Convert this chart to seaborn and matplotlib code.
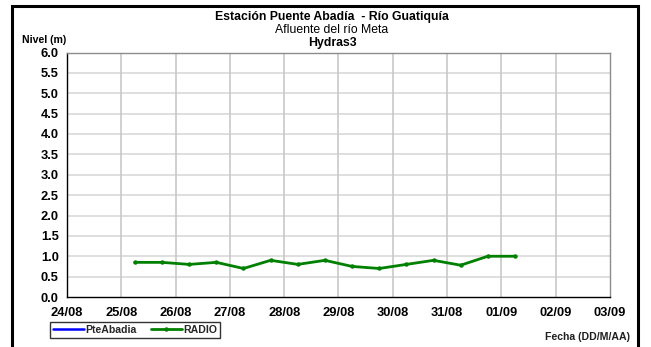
import matplotlib
matplotlib.use("Agg")
import matplotlib.pyplot as plt
import matplotlib.dates as mdates
from matplotlib.patches import Rectangle
import seaborn as sns
import pandas as pd
import numpy as np

sns.set_theme(style="white")
plt.rcParams['font.family'] = ['Liberation Sans', 'DejaVu Sans']

# ---- data ----
fecha_radio = ["2023-08-25 06:00", "2023-08-25 18:00", "2023-08-26 06:00", "2023-08-26 18:00",
               "2023-08-27 06:00", "2023-08-27 18:00", "2023-08-28 06:00", "2023-08-28 18:00",
               "2023-08-29 06:00", "2023-08-29 18:00", "2023-08-30 06:00", "2023-08-30 18:00",
               "2023-08-31 06:00", "2023-08-31 18:00", "2023-09-01 06:00"]
nivel_radio = [0.85, 0.85, 0.80, 0.85, 0.70, 0.90, 0.80, 0.90,
               0.75, 0.70, 0.80, 0.90, 0.78, 1.00, 1.00]
fecha_pte = []
nivel_pte = []
x_ticks = ["2023-08-24", "2023-08-25", "2023-08-26", "2023-08-27", "2023-08-28", "2023-08-29",
           "2023-08-30", "2023-08-31", "2023-09-01", "2023-09-02", "2023-09-03"]
y_ticks = [0.0, 0.5, 1.0, 1.5, 2.0, 2.5, 3.0, 3.5, 4.0, 4.5, 5.0, 5.5, 6.0]

df_radio = pd.DataFrame({"Fecha": pd.to_datetime(fecha_radio), "Nivel": nivel_radio})
df_pte = pd.DataFrame({"Fecha": pd.to_datetime(fecha_pte), "Nivel": pd.Series(nivel_pte, dtype=float)})

fig = plt.figure(figsize=(6.51, 3.47), dpi=100)
fig.patch.set_facecolor("white")
ax = fig.add_axes([67/651, 1-297/347, (610-67)/651, (297-52.5)/347])

# outer frame
fig.patches.append(Rectangle((11.5/651, -0.05), (638-11.5)/651, 1.05 - 5.5/347,
                             transform=fig.transFigure, fill=False, edgecolor="black",
                             linewidth=2.2, zorder=0))

# grid
xt = pd.to_datetime(x_ticks)
for v in y_ticks[1:-1]:
    ax.axhline(v, color="#dcdcdc", linewidth=1.3, zorder=0)
for t in xt[1:-1]:
    ax.axvline(t, color="#c8c8c8", linewidth=1.2, zorder=0)

sns.lineplot(data=df_pte, x="Fecha", y="Nivel", ax=ax, color="#0000ff", linewidth=1.8,
             label="PteAbadia")
sns.lineplot(data=df_radio, x="Fecha", y="Nivel", ax=ax, color="#008000", linewidth=2.0,
             marker="o", markersize=3.2, markeredgewidth=0, label="RADIO")

ax.set_xlim(xt[0], xt[-1])
ax.set_ylim(0, 6)
ax.set_xticks(xt)
ax.xaxis.set_major_formatter(mdates.DateFormatter("%d/%m"))
ax.set_yticks(y_ticks)
ax.set_yticklabels([f"{v:.1f}" for v in y_ticks])
ax.set_xlabel("")
ax.set_ylabel("")
ax.tick_params(axis="both", which="major", length=4, width=0.8, color="black",
               labelsize=9.3, direction="out", pad=2)
ax.tick_params(axis="x", pad=3)
for lab in ax.get_xticklabels() + ax.get_yticklabels():
    lab.set_fontweight("bold")
    lab.set_color("black")

for side in ["left", "bottom"]:
    ax.spines[side].set_color("black")
    ax.spines[side].set_linewidth(1.0)
for side in ["top", "right"]:
    ax.spines[side].set_color("#8c8c8c")
    ax.spines[side].set_linewidth(1.0)
    ax.spines[side].set_visible(True)

# titles
fig.text(0.510, 1-17/347, "Estación Puente Abadía  - Río Guatiquía", ha="center", va="center",
         fontsize=8.8, fontweight="bold", color="black")
fig.text(0.510, 1-30/347, "Afluente del río Meta", ha="center", va="center",
         fontsize=8.8, color="black")
fig.text(0.510, 1-43/347, "Hydras3", ha="center", va="center",
         fontsize=8.8, fontweight="bold", color="black")
fig.text(22/651, 1-40/347, "Nivel (m)", ha="left", va="center",
         fontsize=7.6, fontweight="bold", color="black")
fig.text(630/651, 1-337/347, "Fecha (DD/M/AA)", ha="right", va="center",
         fontsize=7.6, fontweight="bold", color="#202020")

leg = ax.legend(loc="center", bbox_to_anchor=(135/651, 1-330/347), bbox_transform=fig.transFigure,
                ncol=2, frameon=True, fancybox=False, fontsize=7.6, handlelength=3.0,
                handletextpad=0.1, columnspacing=1.3, borderpad=0.25, borderaxespad=0)
leg.get_frame().set_edgecolor("black")
leg.get_frame().set_linewidth(1.0)
for t in leg.get_texts():
    t.set_fontweight("bold")

fig.savefig("out.png", dpi=100)
